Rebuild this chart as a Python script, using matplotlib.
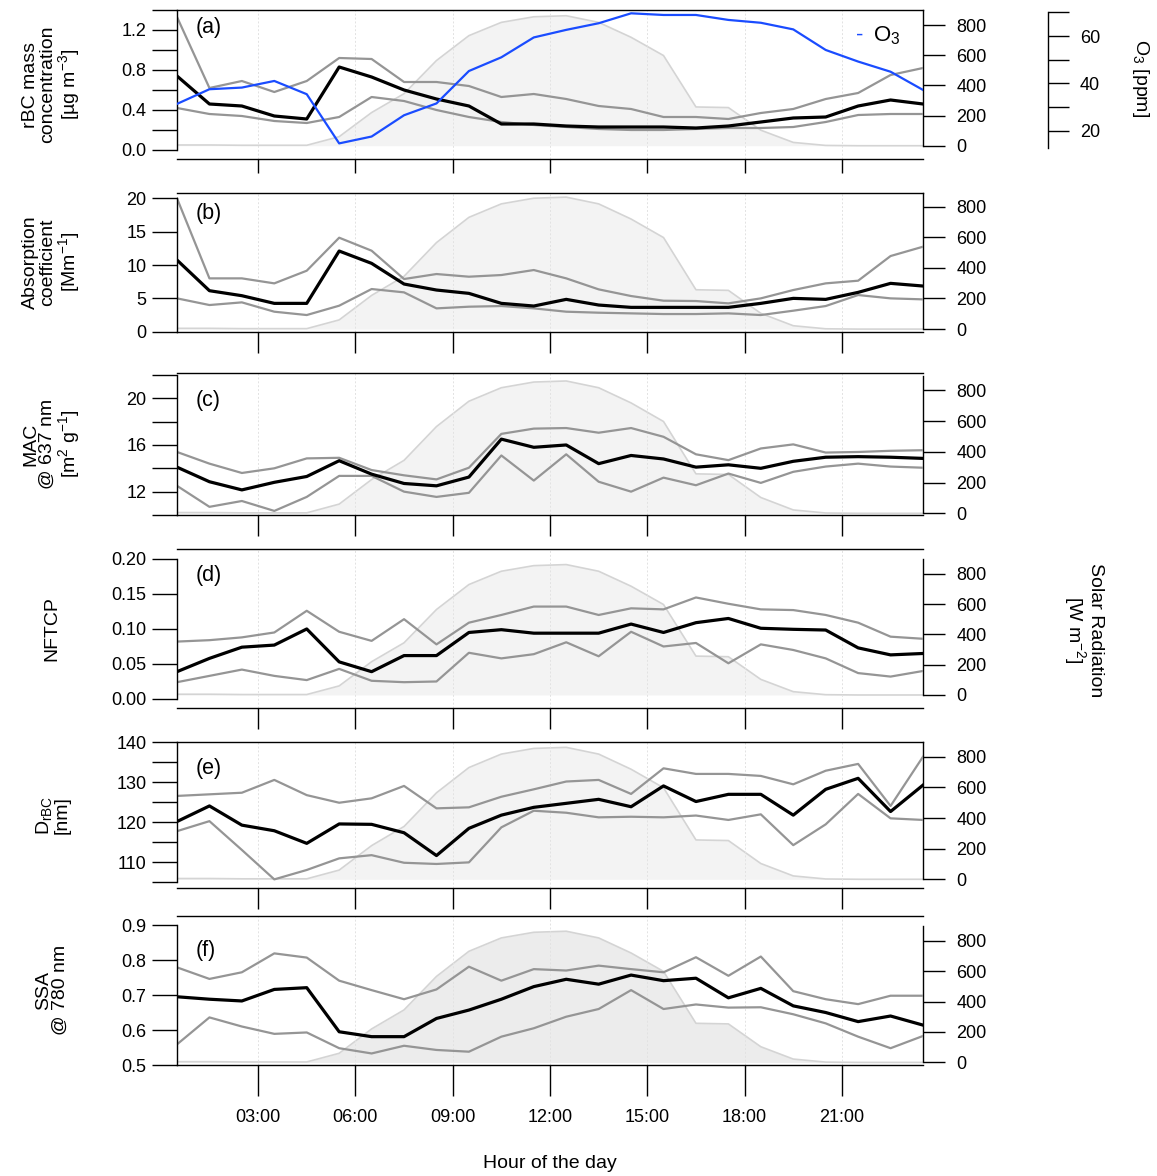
import numpy as np
import matplotlib
matplotlib.use("Agg")
import matplotlib.pyplot as plt

plt.rcParams["font.family"] = ["Liberation Sans", "DejaVu Sans"]
plt.rcParams["mathtext.fontset"] = "custom"
plt.rcParams["mathtext.rm"] = "Liberation Sans"
plt.rcParams["mathtext.it"] = "Liberation Sans:italic"

# hour of the day (centre of each hourly bin)
hours = np.arange(24) + 0.5
xtick_pos = [3, 6, 9, 12, 15, 18, 21]
xtick_lab = ["03:00", "06:00", "09:00", "12:00", "15:00", "18:00", "21:00"]

solar = [5, 5, 3, 3, 3, 60, 220, 345, 565, 730, 818, 855,
         862, 818, 719, 598, 257, 253, 103, 22, 2, 0, 0, 0]

o3 = [31.3, 37.5, 38.2, 41.0, 35.4, 14.6, 17.5, 26.5, 31.5, 45.2, 51.0, 59.4,
      62.6, 65.4, 69.6, 68.9, 68.9, 66.8, 65.6, 62.8, 54.1, 49.2, 44.9, 37.2]

# (a) rBC mass concentration
rbc_med = [0.74, 0.46, 0.44, 0.34, 0.31, 0.83, 0.73, 0.60, 0.51, 0.44, 0.26, 0.26,
           0.24, 0.23, 0.23, 0.23, 0.22, 0.24, 0.28, 0.32, 0.33, 0.44, 0.50, 0.46]
rbc_hi = [1.33, 0.62, 0.69, 0.58, 0.69, 0.92, 0.91, 0.68, 0.68, 0.64, 0.53, 0.56,
          0.51, 0.44, 0.41, 0.33, 0.33, 0.31, 0.37, 0.41, 0.51, 0.57, 0.75, 0.82]
rbc_lo = [0.42, 0.36, 0.34, 0.29, 0.27, 0.33, 0.53, 0.49, 0.40, 0.33, 0.28, 0.25,
          0.23, 0.21, 0.20, 0.20, 0.21, 0.22, 0.22, 0.23, 0.28, 0.35, 0.36, 0.36]

# (b) absorption coefficient
abs_med = [10.75, 6.15, 5.4, 4.25, 4.25, 12.1, 10.25, 7.15, 6.25, 5.75, 4.25, 3.85,
           4.85, 4.0, 3.65, 3.65, 3.65, 3.65, 4.25, 5.0, 4.85, 5.9, 7.25, 6.85]
abs_hi = [20.0, 8.0, 8.0, 7.25, 9.15, 14.1, 12.15, 7.9, 8.65, 8.25, 8.5, 9.25,
          8.0, 6.35, 5.35, 4.65, 4.6, 4.25, 5.0, 6.25, 7.25, 7.65, 11.35, 12.75]
abs_lo = [5.0, 4.0, 4.4, 3.0, 2.5, 3.9, 6.4, 5.9, 3.5, 3.75, 3.85, 3.5,
          3.0, 2.85, 2.75, 2.65, 2.65, 2.75, 2.5, 3.15, 3.85, 5.5, 5.0, 4.85]

# (c) MAC @ 637 nm
mac_med = [14.1, 12.85, 12.15, 12.8, 13.3, 14.65, 13.5, 12.7, 12.5, 13.25, 16.5, 15.8,
           16.0, 14.4, 15.1, 14.8, 14.1, 14.3, 14.0, 14.6, 14.95, 15.0, 14.95, 14.85]
mac_hi = [15.4, 14.4, 13.6, 14.0, 14.85, 14.9, 13.85, 13.4, 13.05, 14.05, 16.95, 17.4,
          17.45, 17.05, 17.45, 16.7, 15.2, 14.7, 15.7, 16.05, 15.35, 15.4, 15.5, 15.55]
mac_lo = [12.5, 10.7, 11.2, 10.35, 11.55, 13.35, 13.35, 12.0, 11.55, 11.9, 15.1, 12.95,
          15.2, 12.85, 12.0, 13.2, 12.55, 13.55, 12.75, 13.7, 14.15, 14.4, 14.15, 14.05]

# (d) NFTCP
nf_med = [0.039, 0.058, 0.074, 0.077, 0.100, 0.053, 0.039, 0.062, 0.062, 0.095, 0.099, 0.094,
          0.094, 0.094, 0.107, 0.095, 0.109, 0.115, 0.101, 0.0995, 0.0985, 0.073, 0.063, 0.065]
nf_hi = [0.082, 0.084, 0.088, 0.095, 0.126, 0.096, 0.083, 0.114, 0.078, 0.109, 0.120, 0.132,
         0.132, 0.120, 0.1295, 0.128, 0.145, 0.136, 0.128, 0.127, 0.120, 0.109, 0.089, 0.086]
nf_lo = [0.024, 0.033, 0.042, 0.033, 0.027, 0.043, 0.026, 0.024, 0.025, 0.066, 0.058, 0.064,
         0.081, 0.061, 0.096, 0.075, 0.080, 0.051, 0.078, 0.070, 0.058, 0.037, 0.032, 0.040]

# (e) D_rBC
d_med = [120.2, 124.1, 119.3, 117.9, 114.75, 119.6, 119.5, 117.4, 111.7, 118.5, 121.8, 123.75,
         124.75, 125.75, 123.9, 129.1, 125.2, 127.0, 127.0, 121.8, 128.25, 131.0, 122.7, 129.3]
d_hi = [126.6, 127.0, 127.4, 130.6, 126.8, 124.9, 126.0, 129.1, 123.5, 123.75, 126.4, 128.25,
        130.2, 130.6, 127.1, 133.5, 132.1, 132.1, 131.6, 129.5, 132.9, 134.6, 124.1, 136.4]
d_lo = [117.8, 120.3, 113.1, 105.75, 108.1, 111.0, 111.8, 109.9, 109.6, 110.0, 118.75, 122.9,
        122.4, 121.25, 121.4, 121.25, 121.7, 120.6, 122.0, 114.3, 119.5, 127.1, 121.0, 120.6]

# (f) SSA @ 780 nm
ssa_med = [0.695, 0.688, 0.683, 0.716, 0.721, 0.595, 0.581, 0.581, 0.633, 0.657, 0.688, 0.724,
           0.745, 0.731, 0.757, 0.741, 0.748, 0.692, 0.719, 0.669, 0.650, 0.624, 0.640, 0.614]
ssa_hi = [0.779, 0.746, 0.765, 0.819, 0.807, 0.741, 0.714, 0.688, 0.716, 0.781, 0.741, 0.774,
          0.770, 0.784, 0.774, 0.765, 0.808, 0.755, 0.810, 0.711, 0.688, 0.674, 0.698, 0.698]
ssa_lo = [0.559, 0.636, 0.610, 0.589, 0.593, 0.548, 0.533, 0.555, 0.543, 0.538, 0.581, 0.605,
          0.638, 0.660, 0.714, 0.660, 0.673, 0.664, 0.665, 0.645, 0.619, 0.581, 0.548, 0.583]

W, H = 1157, 1176
fig = plt.figure(figsize=(W / 100, H / 100), dpi=100)

X0, X1 = 177, 923
FS = 13
LFS = 14
GREY = "#959595"


def rect(top, bot):
    return [X0 / W, 1 - bot / H, (X1 - X0) / W, (bot - top) / H]


def panel(top, bot, med, hi, lo, ylim, yticks, ylabs, slim, letter, lety,
          ylabel, xlen=15, last=False, sfill="#f3f3f3"):
    ax = fig.add_axes(rect(top, bot))
    axs = ax.twinx()
    ax.set_zorder(2)
    axs.set_zorder(1)
    ax.patch.set_visible(False)

    # solar radiation, right axis
    axs.fill_between(hours, 0, solar, color=sfill, lw=0)
    axs.plot(hours, solar, color="#d4d4d4", lw=1.2)
    axs.set_ylim(slim)
    axs.set_yticks([0, 200, 400, 600, 800])
    for s in ["top", "bottom", "left"]:
        axs.spines[s].set_visible(False)
    axs.spines["right"].set_bounds(0, min(slim[1], 897))
    axs.spines["right"].set_linewidth(1.0)
    axs.tick_params(axis="y", direction="out", length=16, width=1.0,
                    labelsize=FS, pad=8)

    for x in xtick_pos:
        ax.axvline(x, color="#e2e2e2", lw=0.7, ls=(0, (2, 2)), zorder=0)

    ax.plot(hours, hi, color=GREY, lw=1.6)
    ax.plot(hours, lo, color=GREY, lw=1.6)
    ax.plot(hours, med, color="black", lw=2.3)

    ax.set_xlim(0.5, 23.5)
    ax.set_ylim(ylim)
    ax.set_yticks(yticks)
    ax.set_yticklabels(ylabs)
    ax.set_xticks(xtick_pos)
    ax.set_xticklabels(xtick_lab if last else [""] * len(xtick_pos))
    ax.spines["right"].set_visible(False)
    ax.spines["left"].set_bounds(yticks[0], yticks[-1])
    for s in ["left", "top", "bottom"]:
        ax.spines[s].set_linewidth(1.0)
    ax.tick_params(axis="y", direction="out", length=18, width=1.0,
                   labelsize=FS, pad=4)
    ax.tick_params(axis="x", direction="out", length=xlen, width=1.0,
                   labelsize=FS, pad=10)
    ax.text(0.025, lety, letter, transform=ax.transAxes, fontsize=15.5,
            ha="left", va="center")
    fig.text(52 / W, 1 - (top + bot) / 2 / H, ylabel, rotation=90,
             ha="center", va="center", fontsize=LFS, linespacing=1.0,
             multialignment="center")
    return ax


ax_a = panel(10, 159, rbc_med, rbc_hi, rbc_lo, (-0.09, 1.4),
             [0, 0.2, 0.4, 0.6, 0.8, 1.0, 1.2, 1.4],
             ["0.0", "", "0.4", "", "0.8", "", "1.2", ""], (-88, 900),
             "(a)", 0.88, "rBC mass\nconcentration\n[µg m$^{-3}$]", xlen=10)

# ozone on its own offset axis
ax_o = ax_a.twinx()
ax_o.set_zorder(3)
ax_o.patch.set_visible(False)
ax_o.plot(hours, o3, color="#1a4cff", lw=1.6)
ax_o.set_ylim(8, 71)
for s in ["top", "bottom", "left"]:
    ax_o.spines[s].set_visible(False)
ax_o.spines["right"].set_position(("axes", (1048 - X0) / (X1 - X0)))
ax_o.spines["right"].set_bounds(12.7, 70)
ax_o.spines["right"].set_linewidth(1.0)
ax_o.set_yticks([20, 30, 40, 50, 60, 70])
ax_o.set_yticklabels(["20", "", "40", "", "60", ""])
ax_o.tick_params(axis="y", direction="out", length=15, width=1.0,
                 labelsize=FS, pad=8)
ax_a.text(0.915, 0.83, "-", transform=ax_a.transAxes, color="#1a4cff",
          fontsize=16, ha="center", va="center")
ax_a.text(0.97, 0.83, "O$_3$", transform=ax_a.transAxes, fontsize=16,
          ha="right", va="center")
fig.text(1140 / W, 1 - 78 / H, "O$_3$ [ppm]", rotation=270, ha="center",
         va="center", fontsize=LFS)

panel(192.7, 331.7, abs_med, abs_hi, abs_lo, (0, 20.85), [0, 5, 10, 15, 20],
      ["0", "5", "10", "15", "20"], (-17, 891), "(b)", 0.85,
      "Absorption\ncoefficient\n[Mm$^{-1}$]")

panel(373.3, 515, mac_med, mac_hi, mac_lo, (10, 22.14),
      [10, 12, 14, 16, 18, 20, 22], ["", "12", "", "16", "", "20", ""],
      (-11, 912), "(c)", 0.81, "MAC\n@ 637 nm\n[m$^{2}$ g$^{-1}$]")

panel(549.3, 708.3, nf_med, nf_hi, nf_lo, (-0.0133, 0.2138),
      [0, 0.05, 0.10, 0.15, 0.20], ["0.00", "0.05", "0.10", "0.15", "0.20"],
      (-88, 963), "(d)", 0.835, "NFTCP")

panel(742.3, 887.7, d_med, d_hi, d_lo, (103.67, 140),
      [105, 110, 115, 120, 125, 130, 135, 140],
      ["", "110", "", "120", "", "130", "", "140"], (-55, 895), "(e)", 0.82,
      "D$_{\\mathrm{rBC}}$\n[nm]")

panel(915.7, 1065, ssa_med, ssa_hi, ssa_lo, (0.5, 0.9267),
      [0.5, 0.6, 0.7, 0.8, 0.9], ["0.5", "0.6", "0.7", "0.8", "0.9"],
      (-17, 964), "(f)", 0.77, "SSA\n@ 780 nm", xlen=22, last=True,
      sfill="#ececec")

fig.text(1083 / W, 1 - 630 / H, "Solar Radiation\n[W m$^{-2}$]", rotation=270,
         ha="center", va="center", fontsize=LFS, linespacing=1.0,
         multialignment="center")
fig.text((X0 + X1) / 2 / W, 1 - 1163 / H, "Hour of the day", ha="center",
         va="center", fontsize=14)

fig.savefig("out.png", dpi=100)
